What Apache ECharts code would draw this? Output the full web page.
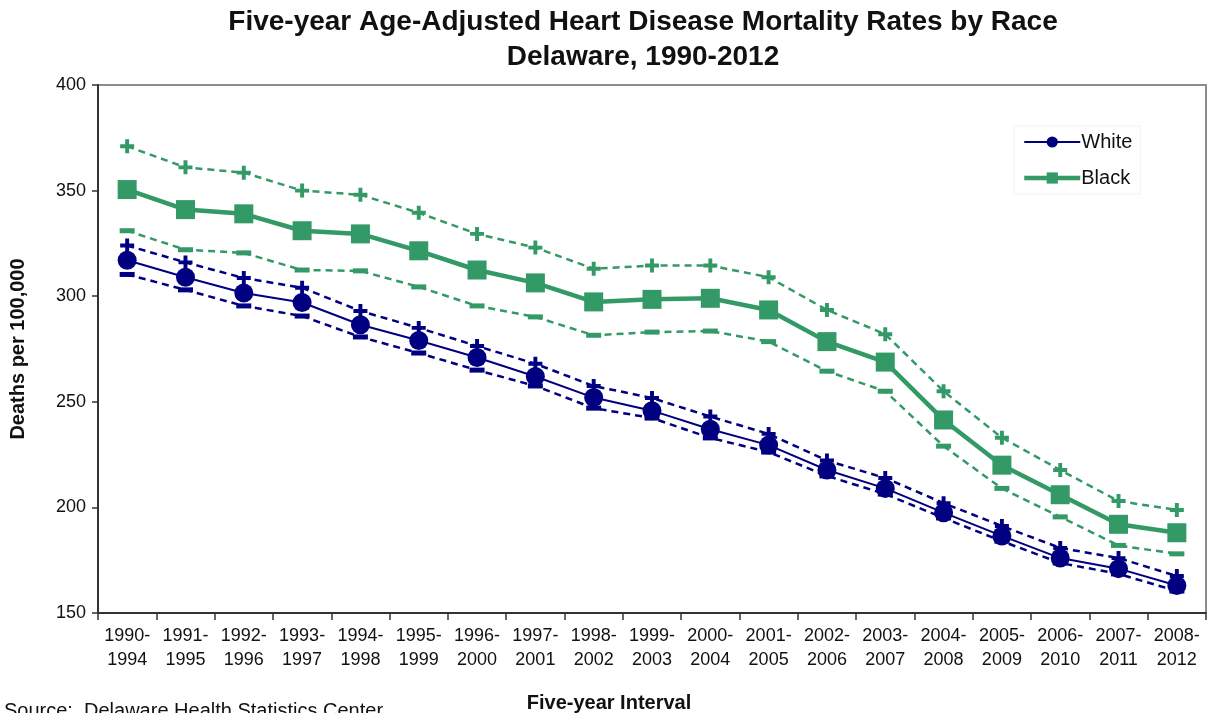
<!DOCTYPE html>
<html>
<head>
<meta charset="utf-8">
<title>Heart Disease Mortality Rates by Race, Delaware</title>
<script src="https://cdn.jsdelivr.net/npm/echarts@6/dist/echarts.min.js"></script>
<style>
  html, body { margin: 0; padding: 0; background: #fff; }
  #chart { width: 1211px; height: 713px; }
</style>
</head>
<body>
<div id="chart"></div>
<script>
// Five-year intervals
const categories = [
  '1990-\n1994', '1991-\n1995', '1992-\n1996', '1993-\n1997', '1994-\n1998',
  '1995-\n1999', '1996-\n2000', '1997-\n2001', '1998-\n2002', '1999-\n2003',
  '2000-\n2004', '2001-\n2005', '2002-\n2006', '2003-\n2007', '2004-\n2008',
  '2005-\n2009', '2006-\n2010', '2007-\n2011', '2008-\n2012'
];

// Age-adjusted rates (deaths per 100,000) with confidence limits
const whiteRate  = [317, 309, 301.5, 297, 286.5, 279, 271, 262, 252, 245.8, 237, 229.5, 217.7, 209, 197.5, 186.5, 176, 171, 163];
const whiteUpper = [324, 316, 308.6, 304, 293, 285, 276.4, 268, 257.5, 251.8, 243, 234.8, 222.2, 213.9, 202, 191.2, 180.8, 176, 167.5];
const whiteLower = [310.3, 303, 295.4, 290.6, 280.7, 273.1, 265, 257.5, 247, 242.3, 232.9, 226.2, 214.9, 206.3, 195, 184, 173.7, 168.5, 160.4];

const blackRate  = [350.5, 341, 339, 331, 329.5, 321.5, 312.4, 306.3, 297.3, 298.5, 299, 293.5, 278.5, 268.8, 241.4, 220, 206, 192, 188];
const blackUpper = [371, 361, 358.5, 350, 348, 339.5, 329.5, 323, 313, 314.5, 314.5, 309, 293.5, 282, 255, 233, 217.7, 203, 198.8];
const blackLower = [331, 322, 320.5, 312.4, 312, 304.4, 295.4, 290.2, 281.5, 283, 283.5, 278.5, 264.5, 255, 229, 209, 195.5, 182, 178];

const yTicks = { min: 150, max: 400, step: 50 };

const titleLines = ['Five-year Age-Adjusted Heart Disease Mortality Rates by Race', 'Delaware, 1990-2012'];

const NAVY = '#000080';
const GREEN = '#339966';
const PLUS = 'path://M3.6,0H6.4V3.6H10V6.4H6.4V10H3.6V6.4H0V3.6H3.6Z';
const MINUS = 'path://M0,0H10V3H0Z';
const FONT = '"Liberation Sans", Arial, sans-serif';

function band(name, data, color, symbol, size) {
  return {
    name: name,
    type: 'line',
    data: data,
    symbol: symbol,
    symbolSize: size,
    showSymbol: true,
    lineStyle: { color: color, width: 2.5, type: [7, 5] },
    itemStyle: { color: color },
    z: 2,
    silent: true
  };
}

const chart = echarts.init(document.getElementById('chart'), null, { renderer: 'canvas' });

chart.setOption({
  animation: false,
  backgroundColor: '#fff',
  textStyle: { fontFamily: FONT },
  legend: {
    data: [
      { name: 'White', lineStyle: { width: 2 } },
      { name: 'Black', lineStyle: { width: 4.5 } }
    ],
    orient: 'vertical',
    left: 1014,
    top: 126,
    itemWidth: 56,
    itemHeight: 14,
    itemGap: 16,
    padding: [6, 8],
    borderColor: '#f2f2f2',
    borderWidth: 1,
    textStyle: { fontSize: 20, color: '#111', padding: [0, 0, 0, -4] }
  },
  grid: {
    left: 97,
    right: 5,
    top: 85,
    bottom: 100,
    show: true,
    borderColor: '#8c8c8c',
    borderWidth: 2
  },
  xAxis: {
    type: 'category',
    data: categories,
    boundaryGap: true,
    axisLine: { show: true, lineStyle: { color: '#333', width: 2 } },
    axisTick: { show: true, length: 7, lineStyle: { color: '#333', width: 1.5 } },
    axisLabel: {
      interval: 0,
      fontSize: 18,
      color: '#111',
      lineHeight: 24,
      margin: 11
    },
    splitLine: { show: false }
  },
  yAxis: {
    type: 'value',
    min: yTicks.min,
    max: yTicks.max,
    interval: yTicks.step,
    name: 'Deaths per 100,000',
    nameLocation: 'middle',
    nameRotate: 90,
    nameGap: 70,
    nameTextStyle: { fontSize: 20, fontWeight: 'bold', color: '#111' },
    axisLine: { show: true, lineStyle: { color: '#333', width: 2 } },
    axisTick: { show: true, length: 6, lineStyle: { color: '#333', width: 1.5 } },
    axisLabel: { fontSize: 18, color: '#111', margin: 12 },
    splitLine: { show: false }
  },
  series: [
    band('White upper', whiteUpper, NAVY, PLUS, 14),
    band('White lower', whiteLower, NAVY, MINUS, [15, 5]),
    band('Black upper', blackUpper, GREEN, PLUS, 14),
    band('Black lower', blackLower, GREEN, MINUS, [15, 5]),
    {
      name: 'White',
      type: 'line',
      data: whiteRate,
      symbol: 'circle',
      symbolSize: 19,
      lineStyle: { color: NAVY, width: 2 },
      itemStyle: { color: NAVY },
      z: 4
    },
    {
      name: 'Black',
      type: 'line',
      data: blackRate,
      symbol: 'rect',
      symbolSize: 19,
      lineStyle: { color: GREEN, width: 4.5 },
      itemStyle: { color: GREEN },
      z: 3
    }
  ],
  graphic: [
    {
      type: 'text',
      x: 643,
      y: 22,
      style: {
        text: titleLines[0],
        font: 'bold 28px ' + FONT,
        fill: '#111',
        align: 'center',
        verticalAlign: 'middle'
      }
    },
    {
      type: 'text',
      x: 643,
      y: 57,
      style: {
        text: titleLines[1],
        font: 'bold 28px ' + FONT,
        fill: '#111',
        align: 'center',
        verticalAlign: 'middle'
      }
    },
    {
      type: 'text',
      x: 609,
      y: 703,
      style: {
        text: 'Five-year Interval',
        font: 'bold 20px ' + FONT,
        fill: '#111',
        align: 'center',
        verticalAlign: 'middle'
      }
    },
    {
      type: 'text',
      x: 4,
      y: 711,
      style: {
        text: 'Source:  Delaware Health Statistics Center',
        font: '20px ' + FONT,
        fill: '#111',
        align: 'left',
        verticalAlign: 'middle'
      }
    }
  ]
});
</script>
</body>
</html>
